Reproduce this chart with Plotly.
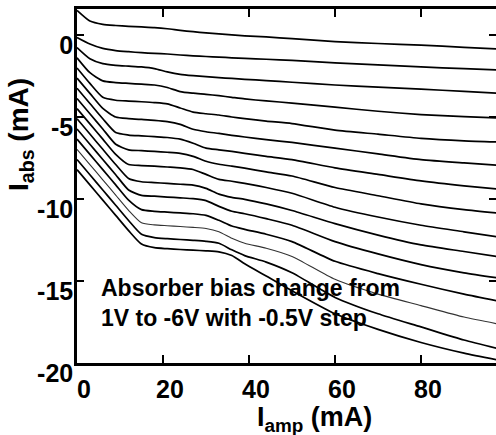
import plotly.graph_objects as go

# Amplifier current grid (mA)
i_amp = [0, 3, 6, 9, 12, 15, 18, 21, 24, 27, 30, 33, 36, 39, 44, 50, 60, 70, 80, 90, 97.5]

# Absorber current (mA) for each absorber bias, 1 V down to -6 V in -0.5 V steps
i_abs_p1v0 = [1.5, 0.85, 0.65, 0.58, 0.53, 0.49, 0.45, 0.38, 0.28, 0.2, 0.13, 0.07, 0.01, -0.05, -0.12, -0.22, -0.4, -0.52, -0.62, -0.75, -0.85]
i_abs_p0v5 = [-0.15, -0.55, -0.82, -0.95, -1.02, -1.08, -1.12, -1.16, -1.22, -1.27, -1.31, -1.35, -1.39, -1.42, -1.48, -1.55, -1.7, -1.82, -1.95, -2.05, -2.13]
i_abs_0v0 = [-0.77, -1.45, -1.75, -1.85, -1.9, -1.95, -2.05, -2.25, -2.4, -2.48, -2.54, -2.6, -2.65, -2.7, -2.78, -2.88, -3.05, -3.18, -3.3, -3.44, -3.54]
i_abs_m0v5 = [-1.39, -2.3, -2.8, -2.9, -2.95, -3.0, -3.05, -3.2, -3.45, -3.55, -3.62, -3.7, -3.8, -3.9, -4.02, -4.15, -4.4, -4.65, -4.85, -4.98, -5.06]
i_abs_m1v0 = [-2.01, -2.95, -3.8, -3.98, -4.03, -4.07, -4.12, -4.2, -4.45, -4.7, -4.8, -4.88, -5.0, -5.1, -5.25, -5.4, -5.8, -6.05, -6.3, -6.45, -6.52]
i_abs_m1v5 = [-2.63, -3.56, -4.48, -5.0, -5.1, -5.15, -5.2, -5.28, -5.45, -5.75, -5.9, -6.0, -6.12, -6.22, -6.38, -6.55, -6.9, -7.25, -7.6, -7.8, -7.93]
i_abs_m2v0 = [-3.25, -4.18, -5.11, -5.95, -6.1, -6.15, -6.2, -6.25, -6.35, -6.6, -6.9, -7.0, -7.1, -7.22, -7.4, -7.6, -8.1, -8.5, -8.9, -9.2, -9.39]
i_abs_m2v5 = [-3.87, -4.8, -5.73, -6.66, -7.0, -7.05, -7.1, -7.15, -7.22, -7.4, -7.7, -7.88, -8.0, -8.12, -8.35, -8.6, -9.3, -9.8, -10.3, -10.65, -10.85]
i_abs_m3v0 = [-4.49, -5.42, -6.35, -7.28, -7.9, -7.96, -8.0, -8.05, -8.1, -8.2, -8.5, -8.8, -8.92, -9.05, -9.3, -9.65, -10.5, -11.1, -11.6, -12.0, -12.3]
i_abs_m3v5 = [-5.11, -6.04, -6.97, -7.9, -8.75, -8.95, -9.0, -9.05, -9.1, -9.15, -9.35, -9.7, -9.9, -10.02, -10.3, -10.7, -11.5, -12.2, -12.8, -13.2, -13.5]
i_abs_m4v0 = [-5.73, -6.66, -7.59, -8.52, -9.45, -9.78, -9.83, -9.88, -9.93, -9.98, -10.1, -10.45, -10.75, -10.9, -11.2, -11.6, -12.6, -13.35, -14.0, -14.5, -14.8]
i_abs_m4v5 = [-6.35, -7.28, -8.21, -9.14, -10.07, -10.65, -10.75, -10.8, -10.85, -10.9, -11.0, -11.3, -11.65, -11.85, -12.15, -12.6, -13.8, -14.55, -15.2, -15.8, -16.2]
i_abs_m5v0 = [-6.97, -7.9, -8.83, -9.76, -10.69, -11.45, -11.58, -11.63, -11.68, -11.73, -11.8, -12.0, -12.4, -12.7, -13.0, -13.5, -14.9, -15.8, -16.5, -17.2, -17.6]
i_abs_m5v5 = [-7.59, -8.52, -9.45, -10.38, -11.31, -12.15, -12.35, -12.42, -12.47, -12.52, -12.58, -12.7, -13.1, -13.45, -13.85, -14.5, -16.0, -17.0, -17.8, -18.6, -19.1]
i_abs_m6v0 = [-8.21, -9.14, -10.07, -11.0, -11.93, -12.75, -12.97, -13.03, -13.08, -13.12, -13.16, -13.22, -13.45, -13.95, -14.7, -15.6, -17.0, -17.95, -18.75, -19.4, -19.8]

bias_volts = [1.0, 0.5, 0.0, -0.5, -1.0, -1.5, -2.0, -2.5, -3.0, -3.5, -4.0, -4.5, -5.0, -5.5, -6.0]
series = [i_abs_p1v0, i_abs_p0v5, i_abs_0v0, i_abs_m0v5, i_abs_m1v0, i_abs_m1v5, i_abs_m2v0,
          i_abs_m2v5, i_abs_m3v0, i_abs_m3v5, i_abs_m4v0, i_abs_m4v5, i_abs_m5v0, i_abs_m5v5,
          i_abs_m6v0]

x_ticks = [0, 20, 40, 60, 80]
y_ticks = [0, -5, -10, -15, -20]

FONT = "Liberation Sans, Arial, Helvetica, sans-serif"

fig = go.Figure()
for v, ys in zip(bias_volts, series):
    thin = v == -5.0
    fig.add_trace(go.Scatter(
        x=i_amp, y=ys, mode="lines", name=f"{v:+.1f} V",
        line=dict(color="#333" if thin else "black", width=1.1 if thin else 1.7,
                  shape="spline", smoothing=0.6),
        showlegend=False, hoverinfo="skip",
    ))

# Right-hand tick marks (no visible right spine)
fig.add_trace(go.Scatter(x=[None], y=[None], yaxis="y2", showlegend=False))

tickfont = dict(family=FONT, size=25, color="black", weight="bold")

fig.update_layout(
    width=496, height=435,
    margin=dict(l=77, r=0, t=9, b=72),
    paper_bgcolor="white", plot_bgcolor="white",
    xaxis=dict(range=[0, 97.44], tickvals=x_ticks, ticktext=[str(t) for t in x_ticks],
               ticks="inside", ticklen=8, tickwidth=2, tickcolor="black",
               showline=True, linewidth=2.5, linecolor="black", mirror="ticks",
               showgrid=False, zeroline=False, tickfont=tickfont,
               ticklabelshift=7, ticklabelstandoff=2),
    yaxis=dict(range=[-20, 1.585], tickvals=y_ticks, ticktext=[str(t) for t in y_ticks],
               ticks="inside", ticklen=7, tickwidth=2, tickcolor="black",
               showline=True, linewidth=2.5, linecolor="black",
               showgrid=False, zeroline=False, tickfont=tickfont,
               ticklabelshift=10, ticklabelstandoff=-4),
    yaxis2=dict(range=[-20, 1.585], overlaying="y", side="right", tickvals=y_ticks,
                ticks="inside", ticklen=7, tickwidth=2, tickcolor="black",
                showticklabels=False, showline=False, showgrid=False, zeroline=False),
    annotations=[
        dict(text="I<sub>abs</sub> (mA)", textangle=-90, xref="paper", yref="paper",
             x=0, y=(363 - 135) / 354, xshift=-57, xanchor="center", yanchor="middle",
             showarrow=False, font=dict(family=FONT, size=28, color="black", weight="bold")),
        dict(text="I<sub>amp</sub> (mA)", xref="paper", yref="paper",
             x=(314 - 77) / 419, y=0, yshift=-56, xanchor="center", yanchor="middle",
             showarrow=False, font=dict(family=FONT, size=27, color="black", weight="bold")),
        dict(text="Absorber bias change from<br>1V to -6V with -0.5V step",
             xref="paper", yref="paper", x=(99 - 77) / 419, y=(363 - 303) / 354,
             xanchor="left", yanchor="middle", align="left", showarrow=False,
             font=dict(family=FONT, size=23, color="black", weight="bold")),
    ],
)

fig.write_html("out.html")
